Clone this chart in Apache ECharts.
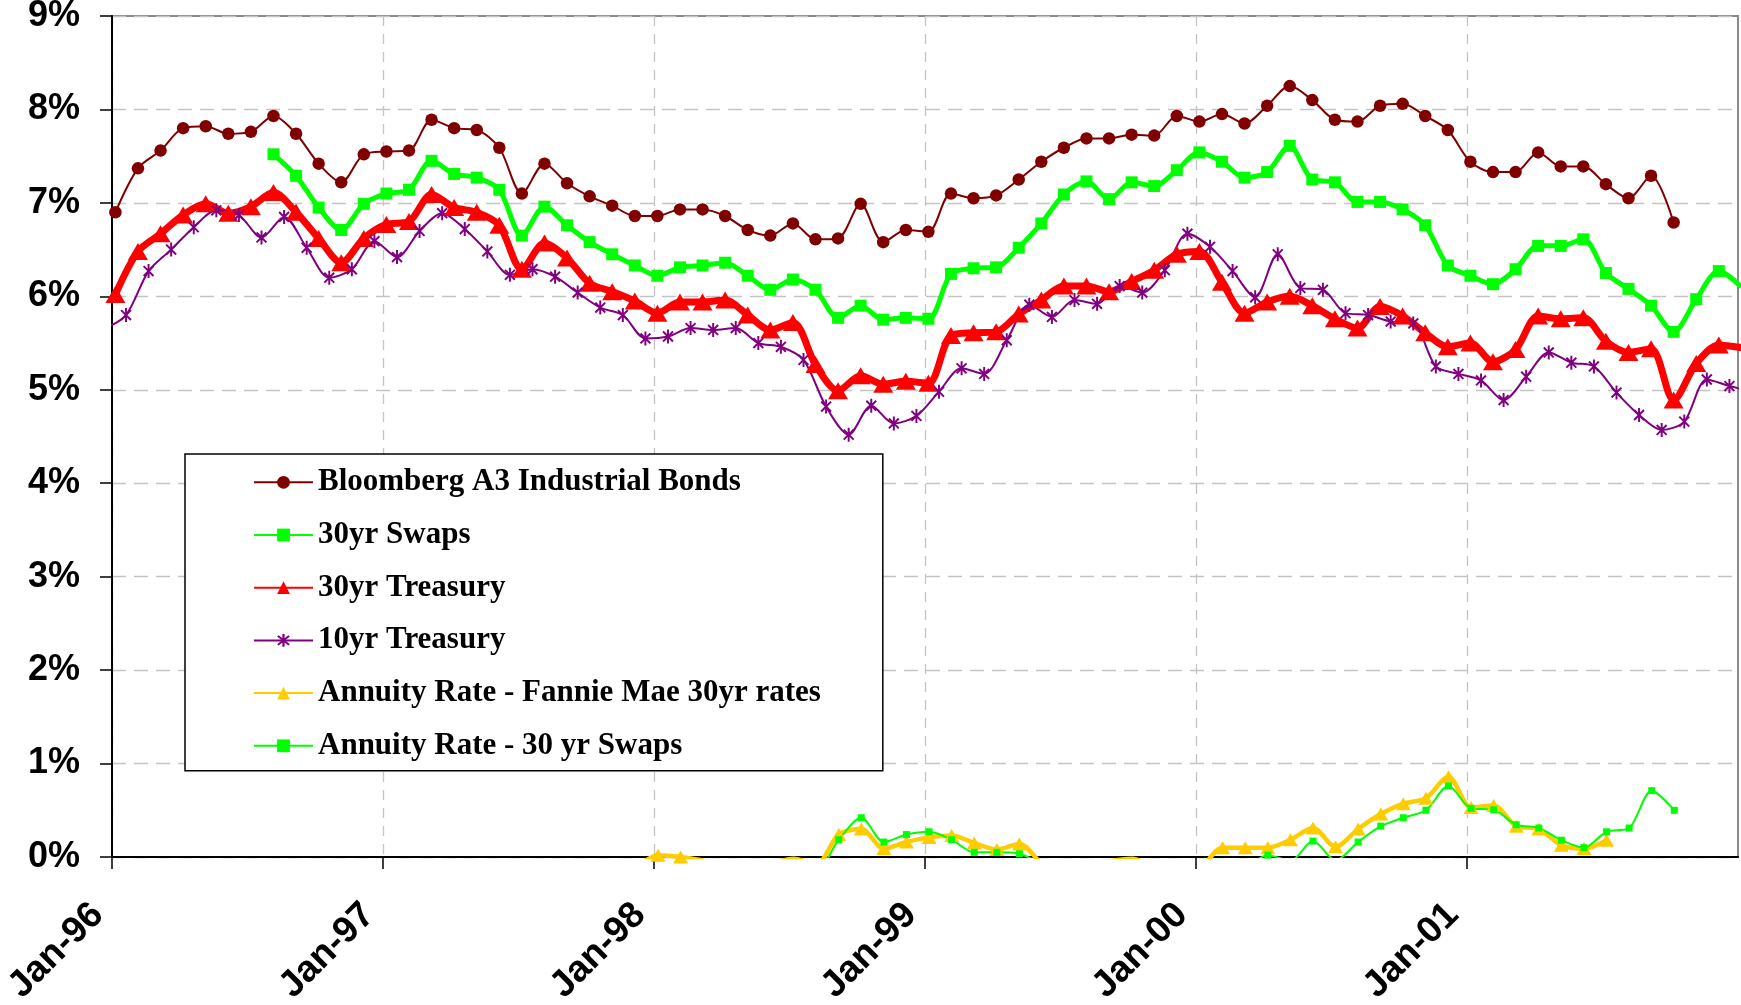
<!DOCTYPE html>
<html>
<head>
<meta charset="utf-8">
<title>Bond rates</title>
<script src="https://cdn.jsdelivr.net/npm/echarts@6/dist/echarts.min.js"></script>
<style>
html,body{margin:0;padding:0;background:#fff;}
#main{width:1741px;height:1005px;}
</style>
</head>
<body>
<div id="main"></div>
<script>
// labels on the x axis, one per January (month index 0,12,24...)
var yearLabels=['Jan-96','Jan-97','Jan-98','Jan-99','Jan-00','Jan-01'];
var yearTicks=[0,12,24,36,48,60];

// monthly series, first value belongs to month *Start (0 = Jan-96)
var bloombergStart=0;
var bloomberg=[6.90,7.37,7.56,7.80,7.82,7.74,7.76,7.93,7.74,7.42,7.22,7.52,
	7.55,7.56,7.89,7.80,7.78,7.59,7.10,7.42,7.21,7.07,6.97,6.86,
	6.86,6.93,6.93,6.86,6.71,6.65,6.78,6.61,6.62,6.99,6.58,6.71,
	6.69,7.10,7.05,7.08,7.25,7.44,7.59,7.69,7.69,7.73,7.72,7.93,
	7.87,7.95,7.85,8.04,8.25,8.10,7.89,7.87,8.04,8.06,7.93,7.78,
	7.44,7.33,7.33,7.54,7.39,7.39,7.20,7.05,7.29,6.79];

var swapsStart=7;
var swaps=[7.52,7.29,6.95,6.71,6.99,
	7.10,7.14,7.45,7.31,7.27,7.14,6.65,6.96,6.76,6.58,6.45,6.33,
	6.22,6.31,6.33,6.36,6.22,6.07,6.18,6.07,5.77,5.90,5.75,5.77,
	5.76,6.24,6.30,6.31,6.52,6.78,7.09,7.23,7.04,7.22,7.18,7.35,
	7.54,7.44,7.27,7.33,7.61,7.25,7.22,7.01,7.01,6.93,6.76,6.33,
	6.22,6.13,6.29,6.54,6.54,6.61,6.25,6.08,5.90,5.62,5.97,6.27,
	6.10];

var treasury30Start=0;
var treasury30=[6.02,6.48,6.67,6.87,6.99,6.89,6.96,7.11,6.90,6.62,6.36,6.62,
	6.77,6.80,7.09,6.95,6.90,6.76,6.29,6.57,6.41,6.14,6.05,5.95,
	5.82,5.94,5.94,5.96,5.80,5.64,5.72,5.27,4.99,5.15,5.06,5.09,
	5.07,5.58,5.61,5.62,5.81,5.96,6.11,6.11,6.05,6.16,6.28,6.45,
	6.48,6.15,5.82,5.94,6.00,5.90,5.76,5.66,5.89,5.79,5.61,5.46,
	5.50,5.30,5.43,5.79,5.76,5.77,5.52,5.40,5.44,4.89,5.28,5.48,
	5.45];

// 10yr is dated later in the month, starts with Dec-95
var treasury10Start=-1;
var treasury10=[5.65,
	5.80,6.27,6.50,6.74,6.92,6.87,6.63,6.85,6.52,6.20,6.29,6.59,
	6.42,6.70,6.89,6.72,6.48,6.23,6.29,6.21,6.04,5.88,5.80,5.55,
	5.57,5.66,5.64,5.66,5.50,5.46,5.32,4.82,4.52,4.83,4.64,4.72,
	4.98,5.23,5.17,5.53,5.91,5.78,5.96,5.92,6.11,6.04,6.28,6.67,
	6.53,6.27,5.99,6.45,6.09,6.07,5.82,5.80,5.73,5.71,5.25,5.17,
	5.10,4.89,5.14,5.40,5.29,5.25,4.97,4.73,4.57,4.66,5.11,5.04,
	4.98];

var annuityFannieStart=23;
var annuityFannie=[-0.12,
	0.02,0.00,-0.04,-0.12,-0.12,-0.07,-0.02,-0.08,0.24,0.30,0.09,0.16,
	0.21,0.23,0.15,0.08,0.14,-0.07,-0.18,-0.12,-0.05,-0.02,-0.12,-0.20,
	-0.12,0.10,0.10,0.10,0.185,0.31,0.11,0.30,0.46,0.57,0.63,0.86,
	0.53,0.55,0.33,0.30,0.125,0.09,0.18];

var annuitySwapsStart=23;
var annuitySwaps=[-0.20,
	-0.06,-0.10,-0.20,-0.25,-0.20,-0.15,-0.08,-0.15,0.185,0.42,0.16,0.24,
	0.27,0.185,0.05,0.05,0.035,-0.08,-0.20,-0.12,-0.03,-0.15,-0.25,-0.30,
	-0.30,-0.25,-0.12,0.02,-0.04,0.17,-0.035,0.16,0.33,0.42,0.50,0.76,
	0.52,0.505,0.345,0.31,0.18,0.10,0.27,0.31,0.71,0.50];

// asterisk marker (vertical bar + X)
var starPath='path://M43 0L57 0L57 100L43 100Z M80.41 9.69L90.31 19.59L19.59 90.31L9.69 80.41Z M9.69 19.59L19.59 9.69L90.31 80.41L80.41 90.31Z';

// turn a value list into [x,y] points on the month axis
function toPoints(vals,start,shift){
	var out=[];
	for(var i=0;i<vals.length;i++){
		out.push([start+i+shift,vals[i]]);
	}
	return out;
}

var gridColor='#c4c4c4';
var chart=echarts.init(document.getElementById('main'));

var option={
	animation:false,
	backgroundColor:'#fff',
	grid:{
		left:112,
		right:3,
		top:16,
		bottom:148,
		outerBoundsMode:'none',
		show:true,
		borderColor:'#8a8a8a',
		borderWidth:2
	},
	legend:{
		orient:'vertical',
		left:185,
		top:454,
		itemWidth:59,
		itemHeight:16,
		itemGap:20.7,
		padding:[12.3,62,9,68],
		backgroundColor:'#fff',
		borderColor:'#000',
		borderWidth:1.5,
		selectedMode:false,
		textStyle:{
			fontFamily:'Liberation Serif',
			fontWeight:'bold',
			fontSize:31,
			lineHeight:32,
			color:'#000'
		},
		data:['Bloomberg A3 Industrial Bonds','30yr Swaps','30yr Treasury','10yr Treasury',
			'Annuity Rate - Fannie Mae 30yr rates','Annuity Rate - 30 yr Swaps']
	},
	xAxis:{
		type:'value',
		min:0,
		max:72,
		interval:12,
		axisLine:{lineStyle:{color:'#000',width:2}},
		axisTick:{
			show:true,
			customValues:yearTicks,
			length:12,
			lineStyle:{color:'#000',width:1.5}
		},
		axisLabel:{
			customValues:yearTicks,
			rotate:45,
			margin:38,
			padding:[0,20,0,0],
			fontFamily:'Liberation Sans',
			fontWeight:'bold',
			fontSize:37,
			color:'#000',
			formatter:function(v){
				return yearLabels[Math.round(v/12)]||'';
			}
		},
		splitLine:{
			show:true,
			lineStyle:{color:gridColor,width:1.3,type:[10,8]}
		}
	},
	yAxis:{
		type:'value',
		min:0,
		max:9,
		interval:1,
		axisLine:{show:true,lineStyle:{color:'#000',width:2}},
		axisTick:{show:true,length:12,lineStyle:{color:'#000',width:1.5}},
		axisLabel:{
			margin:32,
			fontFamily:'Liberation Sans',
			fontWeight:'bold',
			fontSize:36,
			color:'#000',
			formatter:'{value}%'
		},
		splitLine:{
			show:true,
			lineStyle:{color:gridColor,width:1.3,type:[14,8]}
		}
	},
	series:[
		{
			name:'Bloomberg A3 Industrial Bonds',
			type:'line',
			smooth:0.3,
			symbol:'circle',
			symbolSize:12.5,
			color:'#800000',
			lineStyle:{width:2},
			data:toPoints(bloomberg,bloombergStart,0.15)
		},
		{
			name:'30yr Swaps',
			type:'line',
			smooth:0.3,
			symbol:'rect',
			symbolSize:12,
			color:'#00ff00',
			lineStyle:{width:5},
			data:toPoints(swaps,swapsStart,0.15)
		},
		{
			name:'30yr Treasury',
			type:'line',
			smooth:0.3,
			symbol:'triangle',
			symbolSize:[20,17],
			color:'#ff0000',
			lineStyle:{width:7},
			data:toPoints(treasury30,treasury30Start,0.15)
		},
		{
			name:'10yr Treasury',
			type:'line',
			smooth:0.3,
			symbol:starPath,
			symbolKeepAspect:true,
			symbolSize:14,
			color:'#800080',
			lineStyle:{width:2},
			data:toPoints(treasury10,treasury10Start,0.62)
		},
		{
			name:'Annuity Rate - Fannie Mae 30yr rates',
			type:'line',
			smooth:0.3,
			symbol:'triangle',
			symbolSize:[15,13],
			color:'#ffcc00',
			lineStyle:{width:4.5},
			data:toPoints(annuityFannie,annuityFannieStart,0.18)
		},
		{
			name:'Annuity Rate - 30 yr Swaps',
			type:'line',
			smooth:0.3,
			symbol:'rect',
			symbolSize:7,
			color:'#00ff00',
			lineStyle:{width:2},
			data:toPoints(annuitySwaps,annuitySwapsStart,0.18)
		}
	]
};
chart.setOption(option);
</script>
</body>
</html>
